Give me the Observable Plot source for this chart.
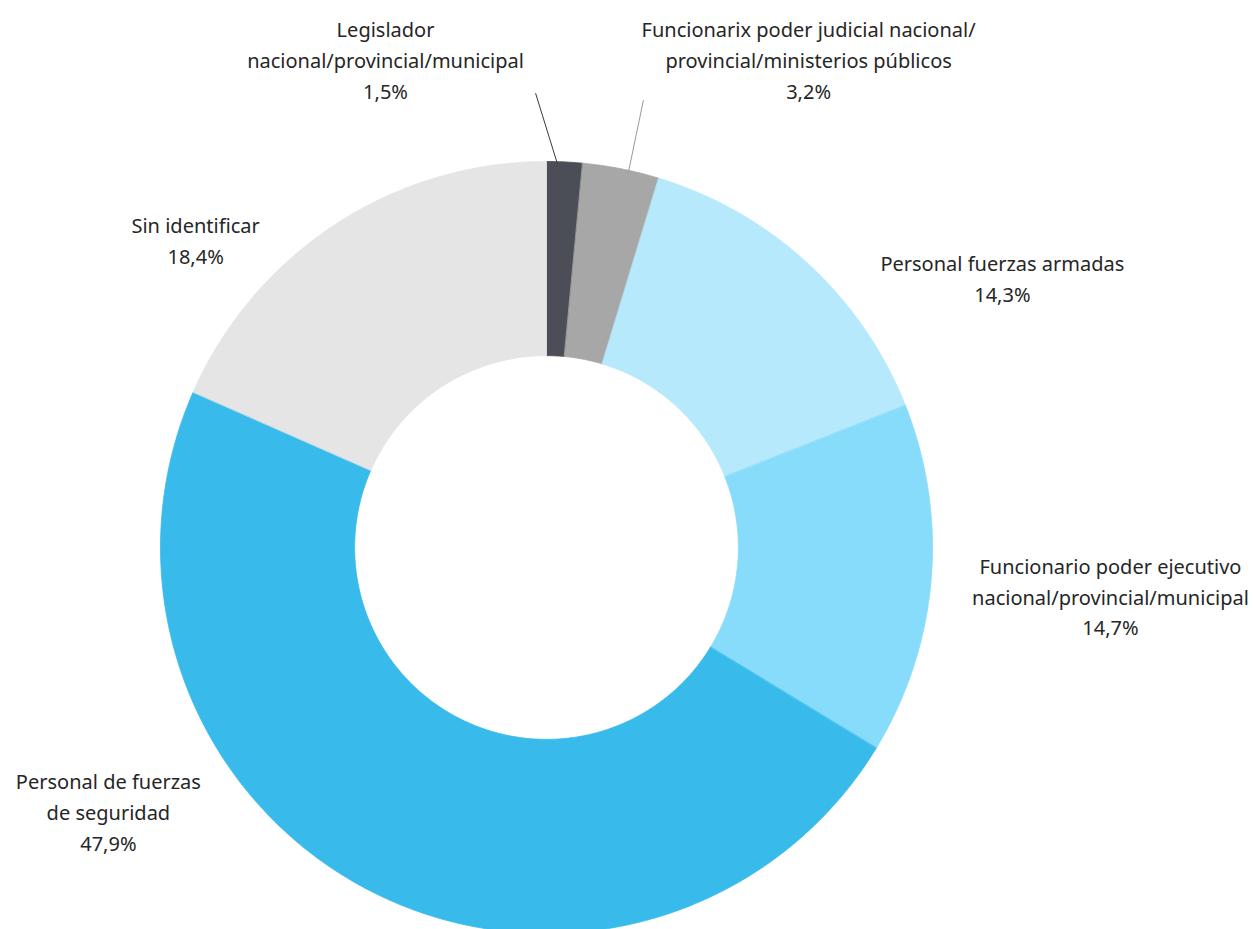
<!DOCTYPE html>
<html>
<head>
<meta charset="utf-8">
<script src="https://cdn.jsdelivr.net/npm/d3@7"></script>
<script src="https://cdn.jsdelivr.net/npm/@observablehq/plot@0.6"></script>
<style>
  html, body { margin: 0; padding: 0; background: #fff; overflow: hidden; }
  #chart svg { display: block; }
</style>
</head>
<body>
<div id="chart"></div>
<script>
// ---- Data ----
const categories = [
  "Legislador\nnacional/provincial/municipal",
  "Funcionarix poder judicial nacional/\nprovincial/ministerios públicos",
  "Personal fuerzas armadas",
  "Funcionario poder ejecutivo\nnacional/provincial/municipal",
  "Personal de fuerzas\nde seguridad",
  "Sin identificar"
];
const values = [1.5, 3.2, 14.3, 14.7, 47.9, 18.4];
const valueLabels = ["1,5%", "3,2%", "14,3%", "14,7%", "47,9%", "18,4%"];

// ---- Styles / layout ----
const colors = ["#4b4e56", "#a7a7a7", "#b7e9fc", "#88dcfb", "#38baeb", "#e5e5e5"];
const innerRatio = 0.497;
// label block centres, in chart units (radius = 1)
const labelPos = [
  [-0.417, 1.267],
  [0.679, 1.267],
  [1.181, 0.702],
  [1.461, -0.122],
  [-1.135, -0.681],
  [-0.909, 0.801]
];
// leader lines for the small slices: start point (chart units) and
// where along the slice (fraction of its angle) the line touches it
const leaderStart = {0: [-0.028, 1.176], 1: [0.251, 1.158]};
const leaderFrac = {0: 0.3, 1: 0.6};
const leaderColors = {0: "#3a3a3a", 1: "#9a9a9a"};

// ---- Build slice polygons from the values ----
const total = d3.sum(values);
let acc = 0;
const slices = values.map((v, i) => {
  const a0 = acc / total * 2 * Math.PI;
  acc += v;
  const a1 = acc / total * 2 * Math.PI;
  return {i, a0, a1};
});
const polyPts = [];
for (const s of slices) {
  const n = Math.max(4, Math.ceil((s.a1 - s.a0) / (Math.PI / 360)));
  for (let k = 0; k <= n; k++) {
    const a = s.a0 + (s.a1 - s.a0) * k / n;
    polyPts.push({cat: categories[s.i], x: Math.sin(a), y: Math.cos(a)});
  }
  for (let k = n; k >= 0; k--) {
    const a = s.a0 + (s.a1 - s.a0) * k / n;
    polyPts.push({cat: categories[s.i], x: innerRatio * Math.sin(a), y: innerRatio * Math.cos(a)});
  }
}

const labelData = categories.map((c, i) => ({
  text: c + "\n" + valueLabels[i],
  x: labelPos[i][0],
  y: labelPos[i][1]
}));

const leaderData = [];
for (const k of Object.keys(leaderStart)) {
  const i = +k;
  const s = slices[i];
  const a = s.a0 + (s.a1 - s.a0) * leaderFrac[i];
  leaderData.push({id: i, x: leaderStart[i][0], y: leaderStart[i][1], c: leaderColors[i]});
  leaderData.push({id: i, x: Math.sin(a) * 0.995, y: Math.cos(a) * 0.995, c: leaderColors[i]});
}

const chart = Plot.plot({
  width: 1253,
  height: 929,
  margin: 0,
  style: {fontFamily: "'Noto Sans', sans-serif", background: "#fff"},
  x: {domain: [-1, 1], range: [160, 932], axis: null},
  y: {domain: [-1, 1], range: [933, 161], axis: null},
  color: {type: "ordinal", domain: categories, range: colors},
  marks: [
    Plot.line(polyPts, {
      x: "x", y: "y", z: "cat",
      fill: "cat", stroke: "cat", strokeWidth: 0.8,
      curve: "linear-closed"
    }),
    Plot.line(leaderData, {
      x: "x", y: "y", z: "id",
      stroke: d => d.c, strokeWidth: 1
    }),
    Plot.text(labelData, {
      x: "x", y: "y", text: "text",
      fontSize: 20, lineHeight: 1.55,
      fill: "#262626", textAnchor: "middle", lineAnchor: "middle"
    })
  ]
});
document.getElementById("chart").appendChild(chart);
</script>
</body>
</html>
